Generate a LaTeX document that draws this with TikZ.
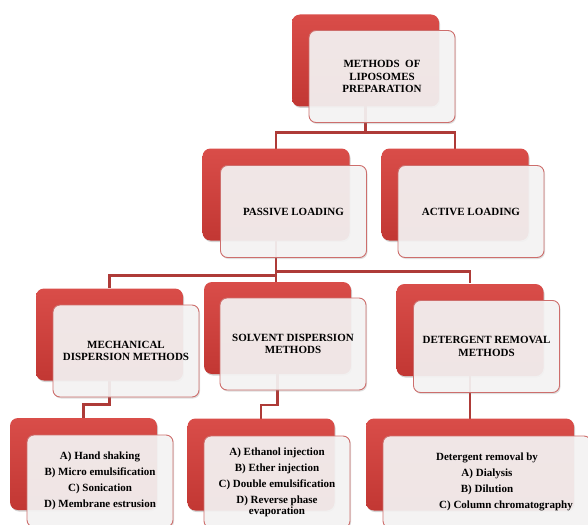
\documentclass[tikz,border=0pt]{standalone}
\usepackage{fontspec}
\setmainfont{Liberation Serif}
\usetikzlibrary{shadows}
\definecolor{redtop}{HTML}{D94D49}
\definecolor{redbot}{HTML}{C23733}
\definecolor{wfill}{HTML}{F6F5F5}
\definecolor{wline}{HTML}{CD6E6C}
\definecolor{connc}{HTML}{AE3B38}
\begin{document}
\begin{tikzpicture}[x=1pt,y=-1pt,
  redbox/.style={rounded corners=8pt, top color=redtop, bottom color=redbot, draw=none,
    minimum width=147pt, minimum height=92pt, inner sep=0pt, outer sep=0pt,
    drop shadow={shadow xshift=1pt,shadow yshift=-1.5pt,opacity=0.35}},
  whitebox/.style={rounded corners=7pt, fill=wfill, fill opacity=0.91, text opacity=1,
    draw=wline, line width=0.9pt, minimum width=146pt, minimum height=92pt,
    align=center, inner sep=2pt, font=\bfseries\fontsize{11}{12.5}\selectfont,
    drop shadow={shadow xshift=1pt,shadow yshift=-1.5pt,opacity=0.25}},
  listbox/.style={whitebox, font=\bfseries\fontsize{11}{16}\selectfont},
  conn/.style={draw=connc, line width=2.3pt}]
\useasboundingbox (0,0) rectangle (588,524);
\clip (0,0) rectangle (588,524);

% red box centres
\path (365.5,60.5) coordinate (c1) (276,194.5) coordinate (c2) (455,194.5) coordinate (c3)
      (109.5,334.5) coordinate (c4) (277.5,328) coordinate (c5) (470,330) coordinate (c6)
      (83.5,464) coordinate (c7) (261,464.5) coordinate (c8) (470,464.5) coordinate (c9);

% connectors
\draw[conn] (c1) ++(0,46) coordinate (t1) -- ++(0,26) -| ([yshift=46pt]c2);
\draw[conn] (t1) -- ++(0,26) -| ([yshift=46pt]c3);
\draw[conn] (c2) ++(0,46) coordinate (t2) -- (t2 |- 0,282);
\draw[conn] (t2) -- ++(0,35) -| (c4 |- 0,288);
\draw[conn] (t2) -- ++(0,31) -| (c6 |- 0,283);
\draw[conn] (c4) ++(0,46) -- ++(0,24) -| (c7 |- 0,418);
\draw[conn] (c5) ++(0,46) -- ++(0,31) -| (c8 |- 0,419);
\draw[conn] (c6) ++(0,46) -- (c9 |- 0,419);

% level 1
\node[redbox] (r1) at (c1) {};
\node[whitebox] (w1) at (382,76.5) {METHODS\ \ OF\\LIPOSOMES\\PREPARATION};
% level 2
\node[redbox] (r2) at (c2) {};
\node[whitebox] (w2) at (293.5,211.5) {PASSIVE LOADING};
\node[redbox] (r3) at (c3) {};
\node[whitebox] (w3) at (471,211.5) {ACTIVE LOADING};
% level 3
\node[redbox] (r4) at (c4) {};
\node[whitebox] (w4) at (126,351) {MECHANICAL\\DISPERSION METHODS};
\node[redbox] (r5) at (c5) {};
\node[whitebox] (w5) at (293,344) {SOLVENT DISPERSION\\METHODS};
\node[redbox] (r6) at (c6) {};
\node[whitebox] (w6) at (486.5,346.5) {DETERGENT REMOVAL\\METHODS};
% level 4
\node[redbox] (r7) at (c7) {};
\node[listbox] (w7) at (100,481) {A) Hand shaking\\B) Micro emulsification\\C) Sonication\\D) Membrane estrusion};
\node[redbox] (r8) at (c8) {};
\node[listbox] (w8) at (277,482) {A) Ethanol injection\\B) Ether injection\\C) Double emulsification\\D) Reverse phase\\[-4.8pt]evaporation};
\node[redbox, minimum width=208pt] (r9) at (c9) {};
\node[listbox, minimum width=208pt] (w9) at (487,482) {Detergent removal by\\A) Dialysis\\B) Dilution\\\hspace*{38pt}C) Column chromatography};
\end{tikzpicture}
\end{document}
